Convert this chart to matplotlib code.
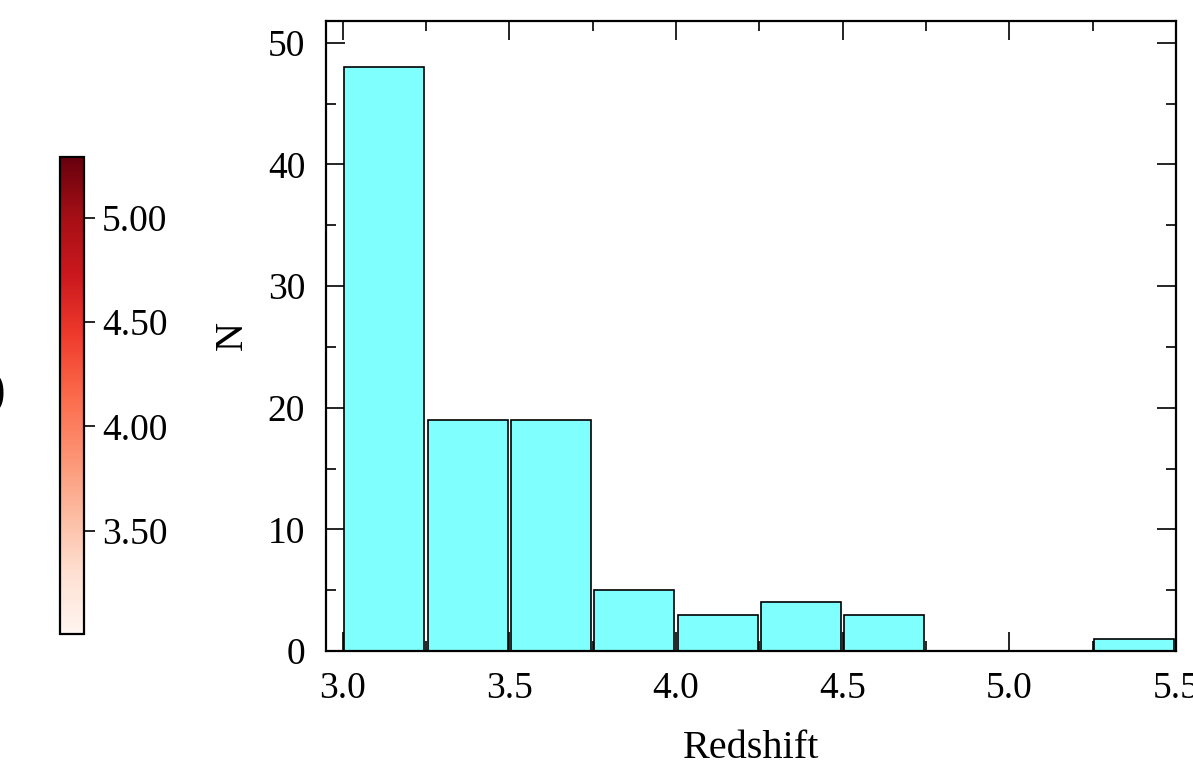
import matplotlib
matplotlib.use("Agg")
import matplotlib.pyplot as plt
import numpy as np
from matplotlib.ticker import MultipleLocator

# histogram of redshifts, bins of 0.25
bin_edges = [3.0, 3.25, 3.5, 3.75, 4.0, 4.25, 4.5, 4.75, 5.0, 5.25, 5.5]
counts = [48, 19, 19, 5, 3, 4, 3, 0, 0, 1]

# colour scale of the redshift colorbar
z_min = 3.005
z_max = 5.29
cbar_ticks = [3.5, 4.0, 4.5, 5.0]

plt.rcParams['font.family'] = ['Liberation Serif', 'DejaVu Serif']
plt.rcParams['font.size'] = 27

fig = plt.figure(figsize=(11.93, 7.70), dpi=100)

# main histogram
ax = fig.add_axes([0.2733, 0.1545, 0.7125, 0.8185])
centers = 0.5 * (np.array(bin_edges[:-1]) + np.array(bin_edges[1:]))
ax.hist(centers, bins=bin_edges, weights=counts, rwidth=0.96,
  color='#80ffff', edgecolor='black', linewidth=1.2)
ax.set_axisbelow(True)
ax.set_xlim(2.95, 5.5)
ax.set_ylim(0, 51.8)
ax.xaxis.set_major_locator(MultipleLocator(0.5))
ax.xaxis.set_minor_locator(MultipleLocator(0.25))
ax.yaxis.set_major_locator(MultipleLocator(10))
ax.yaxis.set_minor_locator(MultipleLocator(5))
ax.xaxis.set_major_formatter(plt.FormatStrFormatter('%.1f'))
ax.tick_params(which='both', direction='in', top=True, right=True, width=1.2)
ax.tick_params(which='major', length=14)
ax.tick_params(which='minor', length=7)
ax.tick_params(axis='x', which='major', pad=15)
ax.tick_params(axis='y', which='major', pad=15)
for s in ax.spines.values():
  s.set_linewidth(1.6)
ax.set_xlabel('Redshift', fontsize=29, labelpad=17)
ax.set_ylabel('N', fontsize=29, labelpad=12)

# colorbar on the left
cax = fig.add_axes([0.0503, 0.1766, 0.0201, 0.6195])
sm = plt.cm.ScalarMappable(cmap='Reds', norm=plt.Normalize(z_min, z_max))
cb = fig.colorbar(sm, cax=cax, ticks=cbar_ticks, format='%.2f')
cb.outline.set_linewidth(1.6)
cax.tick_params(length=8, width=1.2, pad=5)

# leftover of a label cut by the figure edge
fig.text(5 / 1193, 0.49, ')', ha='right', va='center', fontsize=36)

fig.savefig('out.png', dpi=100)
